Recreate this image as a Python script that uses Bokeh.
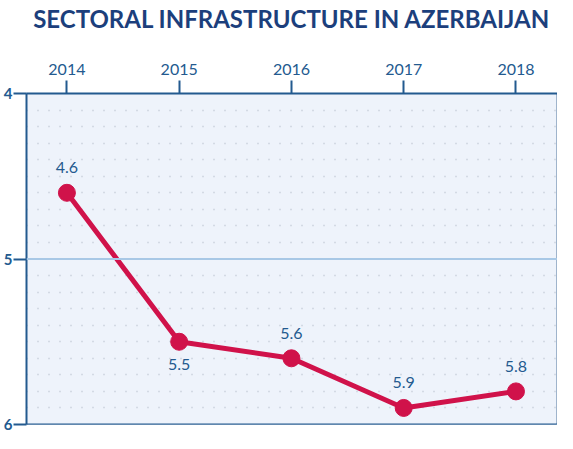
from bokeh.plotting import figure
from bokeh.models import Range1d, FixedTicker, Span, ColumnDataSource
from bokeh.core.properties import value
from bokeh.embed import file_html
from bokeh.resources import INLINE

years = [2014, 2015, 2016, 2017, 2018]
scores = [4.6, 5.5, 5.6, 5.9, 5.8]
score_labels = ["4.6", "5.5", "5.6", "5.9", "5.8"]
label_side = ["above", "below", "above", "above", "above"]
y_ticks = [4, 5, 6]
title_text = "SECTORAL INFRASTRUCTURE IN AZERBAIJAN"

NAVY = "#1c3f7c"
AXIS_BLUE = "#235a8f"
RED = "#d0124a"
FONT = "Lato"

p = figure(width=557, height=433, output_backend="svg", toolbar_location=None,
           x_range=Range1d(2013.64, 2018.37), y_range=Range1d(6, 4),
           x_axis_location="above", y_axis_location="left",
           min_border_left=0, min_border_right=0, min_border_top=4, min_border_bottom=9,
           background_fill_color="white", border_fill_color="white")
p.background_fill_color = "#eef3fb"
p.outline_line_color = "#9fb4cc"
p.outline_line_width = 1

xa = p.xaxis[0]
xa.axis_label = title_text
xa.axis_label_text_font = FONT
xa.axis_label_text_font_size = "24px"
xa.axis_label_text_font_style = "bold"
xa.axis_label_text_color = NAVY
xa.axis_label_standoff = 28
xa.ticker = FixedTicker(ticks=years)
xa.major_label_text_font = FONT
xa.major_label_text_font_size = "16px"
xa.major_label_text_color = AXIS_BLUE
xa.axis_line_color = AXIS_BLUE
xa.axis_line_width = 2
xa.major_tick_line_color = AXIS_BLUE
xa.major_tick_line_width = 2
xa.major_tick_out = 13
xa.major_tick_in = 0
xa.minor_tick_out = 0
xa.minor_tick_in = 0
xa.major_label_standoff = 6

ya = p.yaxis[0]
ya.ticker = FixedTicker(ticks=y_ticks)
ya.major_label_text_font = FONT
ya.major_label_text_font_size = "15px"
ya.major_label_text_color = AXIS_BLUE
ya.major_label_text_font_style = "bold"
ya.axis_line_color = AXIS_BLUE
ya.axis_line_width = 2
ya.major_tick_line_color = AXIS_BLUE
ya.major_tick_line_width = 2
ya.major_tick_out = 13
ya.major_tick_in = 0
ya.minor_tick_out = 0
ya.minor_tick_in = 0
ya.major_label_standoff = 1

p.xgrid.visible = False
grid_ticks = [round(4 + 0.1 * i, 1) for i in range(1, 20) if i != 10]
p.ygrid.ticker = FixedTicker(ticks=grid_ticks)
p.ygrid.grid_line_color = "#b9c0cc"
p.ygrid.grid_line_width = 1.5
p.ygrid.grid_line_dash = "1 10"

p.add_layout(Span(location=5, dimension="width", line_color="#a8c8e6", line_width=2))
p.add_layout(Span(location=6, dimension="width", line_color=AXIS_BLUE, line_width=2))

offsets = [-25 if s == "above" else 23 for s in label_side]
src = ColumnDataSource(dict(x=years, y=scores, t=score_labels, off=offsets))
p.line("x", "y", source=src, line_color=RED, line_width=5)
p.scatter("x", "y", source=src, size=17, fill_color=RED, line_color=RED)
p.text("x", "y", text="t", source=src, y_offset="off", text_align="center",
       text_baseline="middle", text_font=value(FONT), text_font_size="16px",
       text_color=AXIS_BLUE)

open("out.html", "w").write(file_html(p, INLINE))
